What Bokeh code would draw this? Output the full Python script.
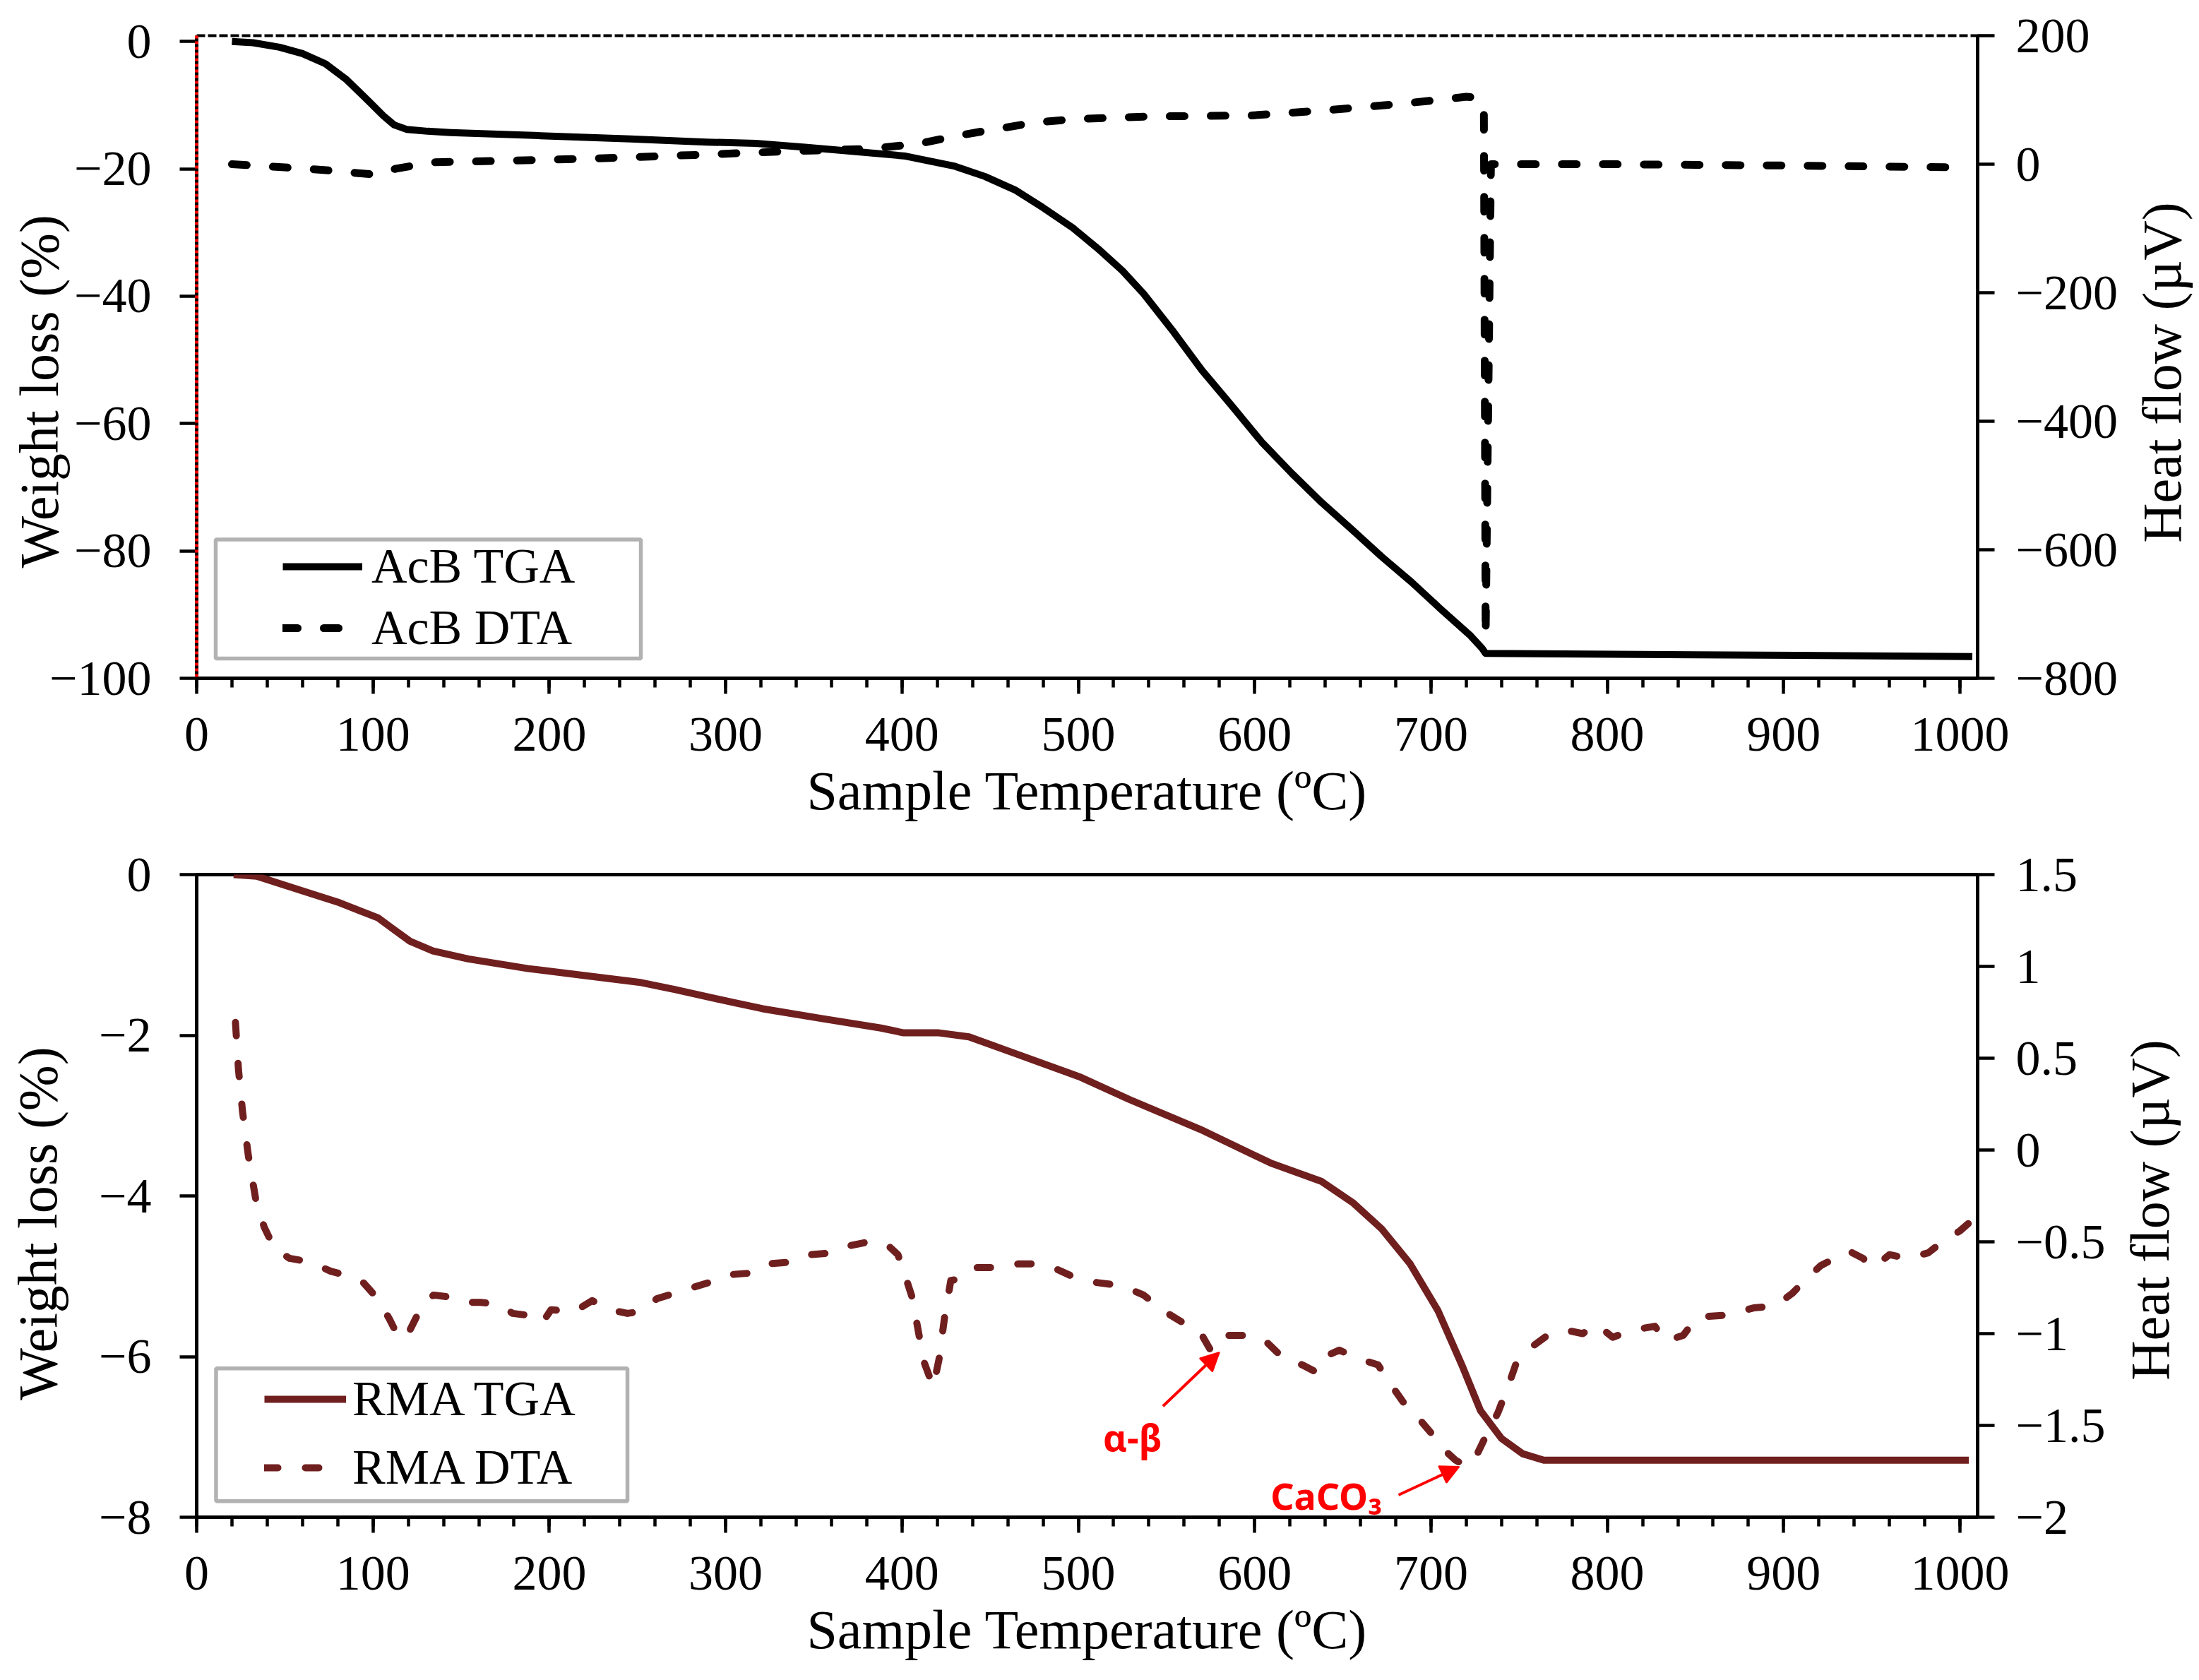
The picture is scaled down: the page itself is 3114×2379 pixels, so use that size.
import math
from bokeh.plotting import figure
from bokeh.models import (Range1d, LinearAxis, FixedTicker, SingleIntervalTicker, Legend,
                          LegendItem, BoxAnnotation, Arrow, NormalHead, CustomJSTickFormatter, Label)
from bokeh.layouts import column
from bokeh.core.properties import value
from bokeh.embed import file_html
from bokeh.resources import INLINE

# ---------------- data ----------------
acb_tga_x = [20, 32, 47, 60, 73, 85, 98, 106, 112, 119,
             131, 144, 195, 246, 289, 317, 345, 374, 402, 430,
             447, 464, 480, 497, 511, 525, 537, 554, 570, 587,
             604, 621, 638, 655, 672, 689, 705, 722, 729, 731,
             850, 1007]
acb_tga_y = [0, -0.2, -0.9, -1.9, -3.5, -6.0, -9.5, -11.7, -13.1, -13.8,
             -14.1, -14.3, -14.8, -15.3, -15.8, -16.0, -16.6, -17.3, -18.0, -19.6,
             -21.2, -23.3, -26.1, -29.3, -32.5, -36.0, -39.6, -45.6, -51.6, -57.2,
             -62.9, -67.8, -72.4, -76.6, -80.9, -84.9, -89.0, -93.2, -95.3, -96.1,
             -96.3, -96.6]

acb_dta_x = [20, 50, 72, 100, 113, 134, 170, 221, 289, 334,
             382, 410, 430, 452, 475, 497, 542, 598, 641, 683,
             714, 720, 727, 730, 731, 734, 750, 800, 850, 900,
             950, 1005]
acb_dta_y = [0, -5, -9, -16, -7, 3, 5, 8.5, 15, 20,
             24, 32, 43.6, 54, 64.6, 70, 74.4, 75.8, 84, 94,
             103, 105, 103, 80, -735, 0, 0, 0, -1, -2,
             -3.5, -5]

rma_tga_x = [21, 34, 54, 81, 103, 111, 121, 134, 154, 188,
             221, 251, 271, 304, 321, 354, 388, 401, 421, 438,
             462, 501, 529, 569, 609, 638, 656, 672, 688, 704,
             718, 728, 740, 752, 764, 1005]
rma_tga_y = [0, -0.02, -0.16, -0.35, -0.54, -0.67, -0.83, -0.95, -1.05, -1.17,
             -1.26, -1.34, -1.43, -1.59, -1.67, -1.79, -1.91, -1.97, -1.97, -2.02,
             -2.21, -2.52, -2.80, -3.17, -3.59, -3.82, -4.09, -4.41, -4.84, -5.43,
             -6.13, -6.67, -7.02, -7.21, -7.29, -7.29]

rma_dta_x = [22, 23.7, 26, 29.3, 33.7, 38.3, 44.3, 52.7, 64.3, 76,
             87.7, 94.3, 102.7, 109.3, 115, 121, 127.7, 134.3, 142.7, 151,
             161, 171, 179.3, 187.7, 196, 201, 214.3, 224.3, 234.3, 244.3,
             251, 261, 271, 281, 291, 301, 314.3, 324.3, 337.7, 347.7,
             361, 371, 381, 391, 397.7, 402, 406, 409.3, 412.7, 417.7,
             421, 424.3, 427.7, 436, 442.7, 454.3, 466, 478, 488, 497,
             509, 525, 537, 549, 561, 569, 575, 581, 597, 605,
             617, 627, 635, 641, 648, 660, 670, 676, 684, 692,
             700, 706, 714, 720, 724, 730, 738, 744, 748, 756,
             766, 776, 786, 794, 803, 815, 827, 833, 843, 851,
             867, 883, 895, 905, 913, 921, 929, 937, 945, 951,
             960, 970, 982, 990, 1000, 1006]
rma_dta_y = [0.695, 0.44, 0.21, -0.03, -0.28, -0.42, -0.54, -0.59, -0.61, -0.66,
             -0.69, -0.72, -0.81, -0.92, -1.03, -0.98, -0.85, -0.79, -0.80, -0.83,
             -0.83, -0.84, -0.89, -0.90, -0.94, -0.87, -0.88, -0.82, -0.87, -0.89,
             -0.88, -0.81, -0.78, -0.75, -0.72, -0.68, -0.67, -0.62, -0.61, -0.57,
             -0.56, -0.52, -0.50, -0.51, -0.57, -0.69, -0.81, -0.99, -1.16, -1.29,
             -1.14, -0.90, -0.71, -0.70, -0.64, -0.64, -0.62, -0.62, -0.65, -0.69,
             -0.72, -0.74, -0.79, -0.88, -0.95, -0.99, -1.09, -1.01, -1.01, -1.03,
             -1.14, -1.17, -1.21, -1.12, -1.09, -1.14, -1.17, -1.26, -1.37, -1.45,
             -1.54, -1.62, -1.69, -1.72, -1.70, -1.58, -1.43, -1.28, -1.17, -1.08,
             -1.01, -0.98, -1.00, -0.95, -1.02, -0.98, -0.96, -1.04, -1.01, -0.91,
             -0.90, -0.86, -0.85, -0.78, -0.70, -0.63, -0.59, -0.55, -0.59, -0.64,
             -0.57, -0.59, -0.56, -0.50, -0.44, -0.39]

top_left_ticks = [-100, -80, -60, -40, -20, 0]
top_right_ticks = [-800, -600, -400, -200, 0, 200]
bot_left_ticks = [-8, -6, -4, -2, 0]
bot_right_ticks = [-2, -1.5, -1, -0.5, 0, 0.5, 1, 1.5]

red_marker_x = [0, 0]
red_marker_y = [0.9, -100]

x_title = "Sample Temperature (ºC)"
y_title = "Weight loss (%)"
y2_title = "Heat flow (µV)"

# annotation anchor points (data coords, right axis of lower chart)
ab_text = dict(x=514, y=-1.56, text="α-β")
caco_text = dict(x=609, y=-1.88, text="CaCO₃")
ab_arrow = dict(x_start=548, y_start=-1.395, x_end=580, y_end=-1.102)
caco_arrow = dict(x_start=681.6, y_start=-1.879, x_end=716, y_end=-1.725)

MAROON = "#701F1F"
SERIF = "Liberation Serif"
NBSP = "\u00a0"

fmt = CustomJSTickFormatter(code="return (tick < 0 ? '\\u2212' : '') + Math.abs(tick);")


def style_axis(ax, tick_standoff):
    ax.axis_line_width = 5
    ax.axis_line_color = "black"
    ax.major_tick_line_width = 4.5
    ax.minor_tick_line_width = 4.5
    ax.major_tick_line_color = "black"
    ax.minor_tick_line_color = "black"
    ax.major_tick_out = 22
    ax.major_tick_in = 0
    ax.minor_tick_out = 13
    ax.minor_tick_in = 0
    ax.major_label_text_font = SERIF
    ax.major_label_text_font_size = "70px"
    ax.major_label_text_color = "black"
    ax.major_label_standoff = tick_standoff
    ax.axis_label_text_font = SERIF
    ax.axis_label_text_font_size = "78px"
    ax.axis_label_text_font_style = "normal"
    ax.axis_label_text_color = "black"
    ax.formatter = fmt


def make_fig(ymin, ymax, y2min, y2max, lticks, rticks, top_border, bottom_border,
             left_standoff, left_pad):
    p = figure(frame_width=2522, frame_height=910,
               x_range=Range1d(0, 1010), y_range=Range1d(ymin, ymax),
               output_backend="svg", toolbar_location=None,
               min_border_left=278, min_border_right=310,
               min_border_top=top_border, min_border_bottom=bottom_border)
    p.xgrid.visible = False
    p.ygrid.visible = False
    p.background_fill_color = "white"
    p.border_fill_color = "white"
    p.extra_y_ranges = {"right": Range1d(y2min, y2max)}

    xa = p.xaxis[0]
    style_axis(xa, 34)
    xa.axis_label = x_title
    xa.axis_label_standoff = 10
    xa.ticker = SingleIntervalTicker(interval=100, num_minor_ticks=5)

    ya = p.yaxis[0]
    style_axis(ya, 40)
    # trailing no-break spaces nudge the centred title slightly lower, as in the original
    ya.axis_label = y_title + NBSP * left_pad
    ya.axis_label_standoff = left_standoff
    ya.ticker = FixedTicker(ticks=lticks, minor_ticks=[])
    ya.major_tick_out = 24

    ra = LinearAxis(y_range_name="right")
    style_axis(ra, 30)
    ra.ticker = FixedTicker(ticks=rticks, minor_ticks=[])
    ra.major_tick_out = 24
    p.add_layout(ra, "right")
    return p


def right_title(p, y):
    p.add_layout(Label(x=60, y=y, x_units="screen", y_units="screen", text=y2_title,
                       angle=math.pi / 2, text_align="center", text_baseline="middle",
                       text_font=SERIF, text_font_size="78px", text_color="black"), "right")


# ---------------- top chart (AcB) ----------------
p1 = make_fig(-100, 0.91, -800, 200, top_left_ticks, top_right_ticks, 50, 240, -32, 5)
p1.outline_line_color = "black"
p1.outline_line_width = 4
p1.outline_line_dash = "12 4"

r_tga1 = p1.line(acb_tga_x, acb_tga_y, line_color="black", line_width=10, line_join="round")
r_dta1 = p1.line(acb_dta_x, acb_dta_y, y_range_name="right", line_color="black",
                 line_width=11, line_dash="21 37", line_cap="round", line_join="round")
r_red = p1.line(red_marker_x, red_marker_y, line_color="red", line_width=5, line_dash="4 4")
r_red.level = "overlay"

p1.add_layout(BoxAnnotation(left=10.8, right=251.9, top=-78.2, bottom=-96.9,
                            fill_color="white", fill_alpha=1.0,
                            line_color="black", line_width=5.5))
leg1 = Legend(items=[LegendItem(label="AcB TGA", renderers=[r_tga1]),
                     LegendItem(label="AcB DTA", renderers=[r_dta1])],
              location=(122, 31), orientation="vertical",
              border_line_color=None, background_fill_alpha=0.0,
              padding=0, margin=0, spacing=7,
              glyph_width=113, glyph_height=78, label_height=78, label_standoff=13,
              label_text_font=SERIF, label_text_font_size="70px", label_text_color="black")
p1.add_layout(leg1)
right_title(p1, 433)

# ---------------- bottom chart (RMA) ----------------
p2 = make_fig(-8, 0, -2, 1.5, bot_left_ticks, bot_right_ticks, 38, 225, 40, 4)
p2.outline_line_color = "black"
p2.outline_line_width = 5

r_tga2 = p2.line(rma_tga_x, rma_tga_y, line_color=MAROON, line_width=10, line_join="round")
r_dta2 = p2.line(rma_dta_x, rma_dta_y, y_range_name="right", line_color=MAROON,
                 line_width=10, line_dash="19 39", line_cap="round", line_join="round")

p2.add_layout(BoxAnnotation(left=11, right=244.3, top=-6.148, bottom=-7.80,
                            fill_color="white", fill_alpha=1.0,
                            line_color="black", line_width=5.5))
leg2 = Legend(items=[LegendItem(label="RMA TGA", renderers=[r_tga2]),
                     LegendItem(label="RMA DTA", renderers=[r_dta2])],
              location=(96, 30), orientation="vertical",
              border_line_color=None, background_fill_alpha=0.0,
              padding=0, margin=0, spacing=17,
              glyph_width=116, glyph_height=78, label_height=78, label_standoff=9,
              label_text_font=SERIF, label_text_font_size="70px", label_text_color="black")
p2.add_layout(leg2)
right_title(p2, 435)

for t in (ab_text, caco_text):
    p2.text(x=[t["x"]], y=[t["y"]], text=[t["text"]], y_range_name="right",
            text_font=value("Noto Sans"), text_font_style="bold", text_font_size="52px",
            text_color="red", text_align="left", text_baseline="alphabetic")

for a in (ab_arrow, caco_arrow):
    p2.add_layout(Arrow(end=NormalHead(size=26, fill_color="red", line_color="red", line_width=2),
                        line_color="red", line_width=4, y_range_name="right", **a))

layout = column(p1, p2, spacing=0)
open("out.html", "w").write(file_html(layout, INLINE))
